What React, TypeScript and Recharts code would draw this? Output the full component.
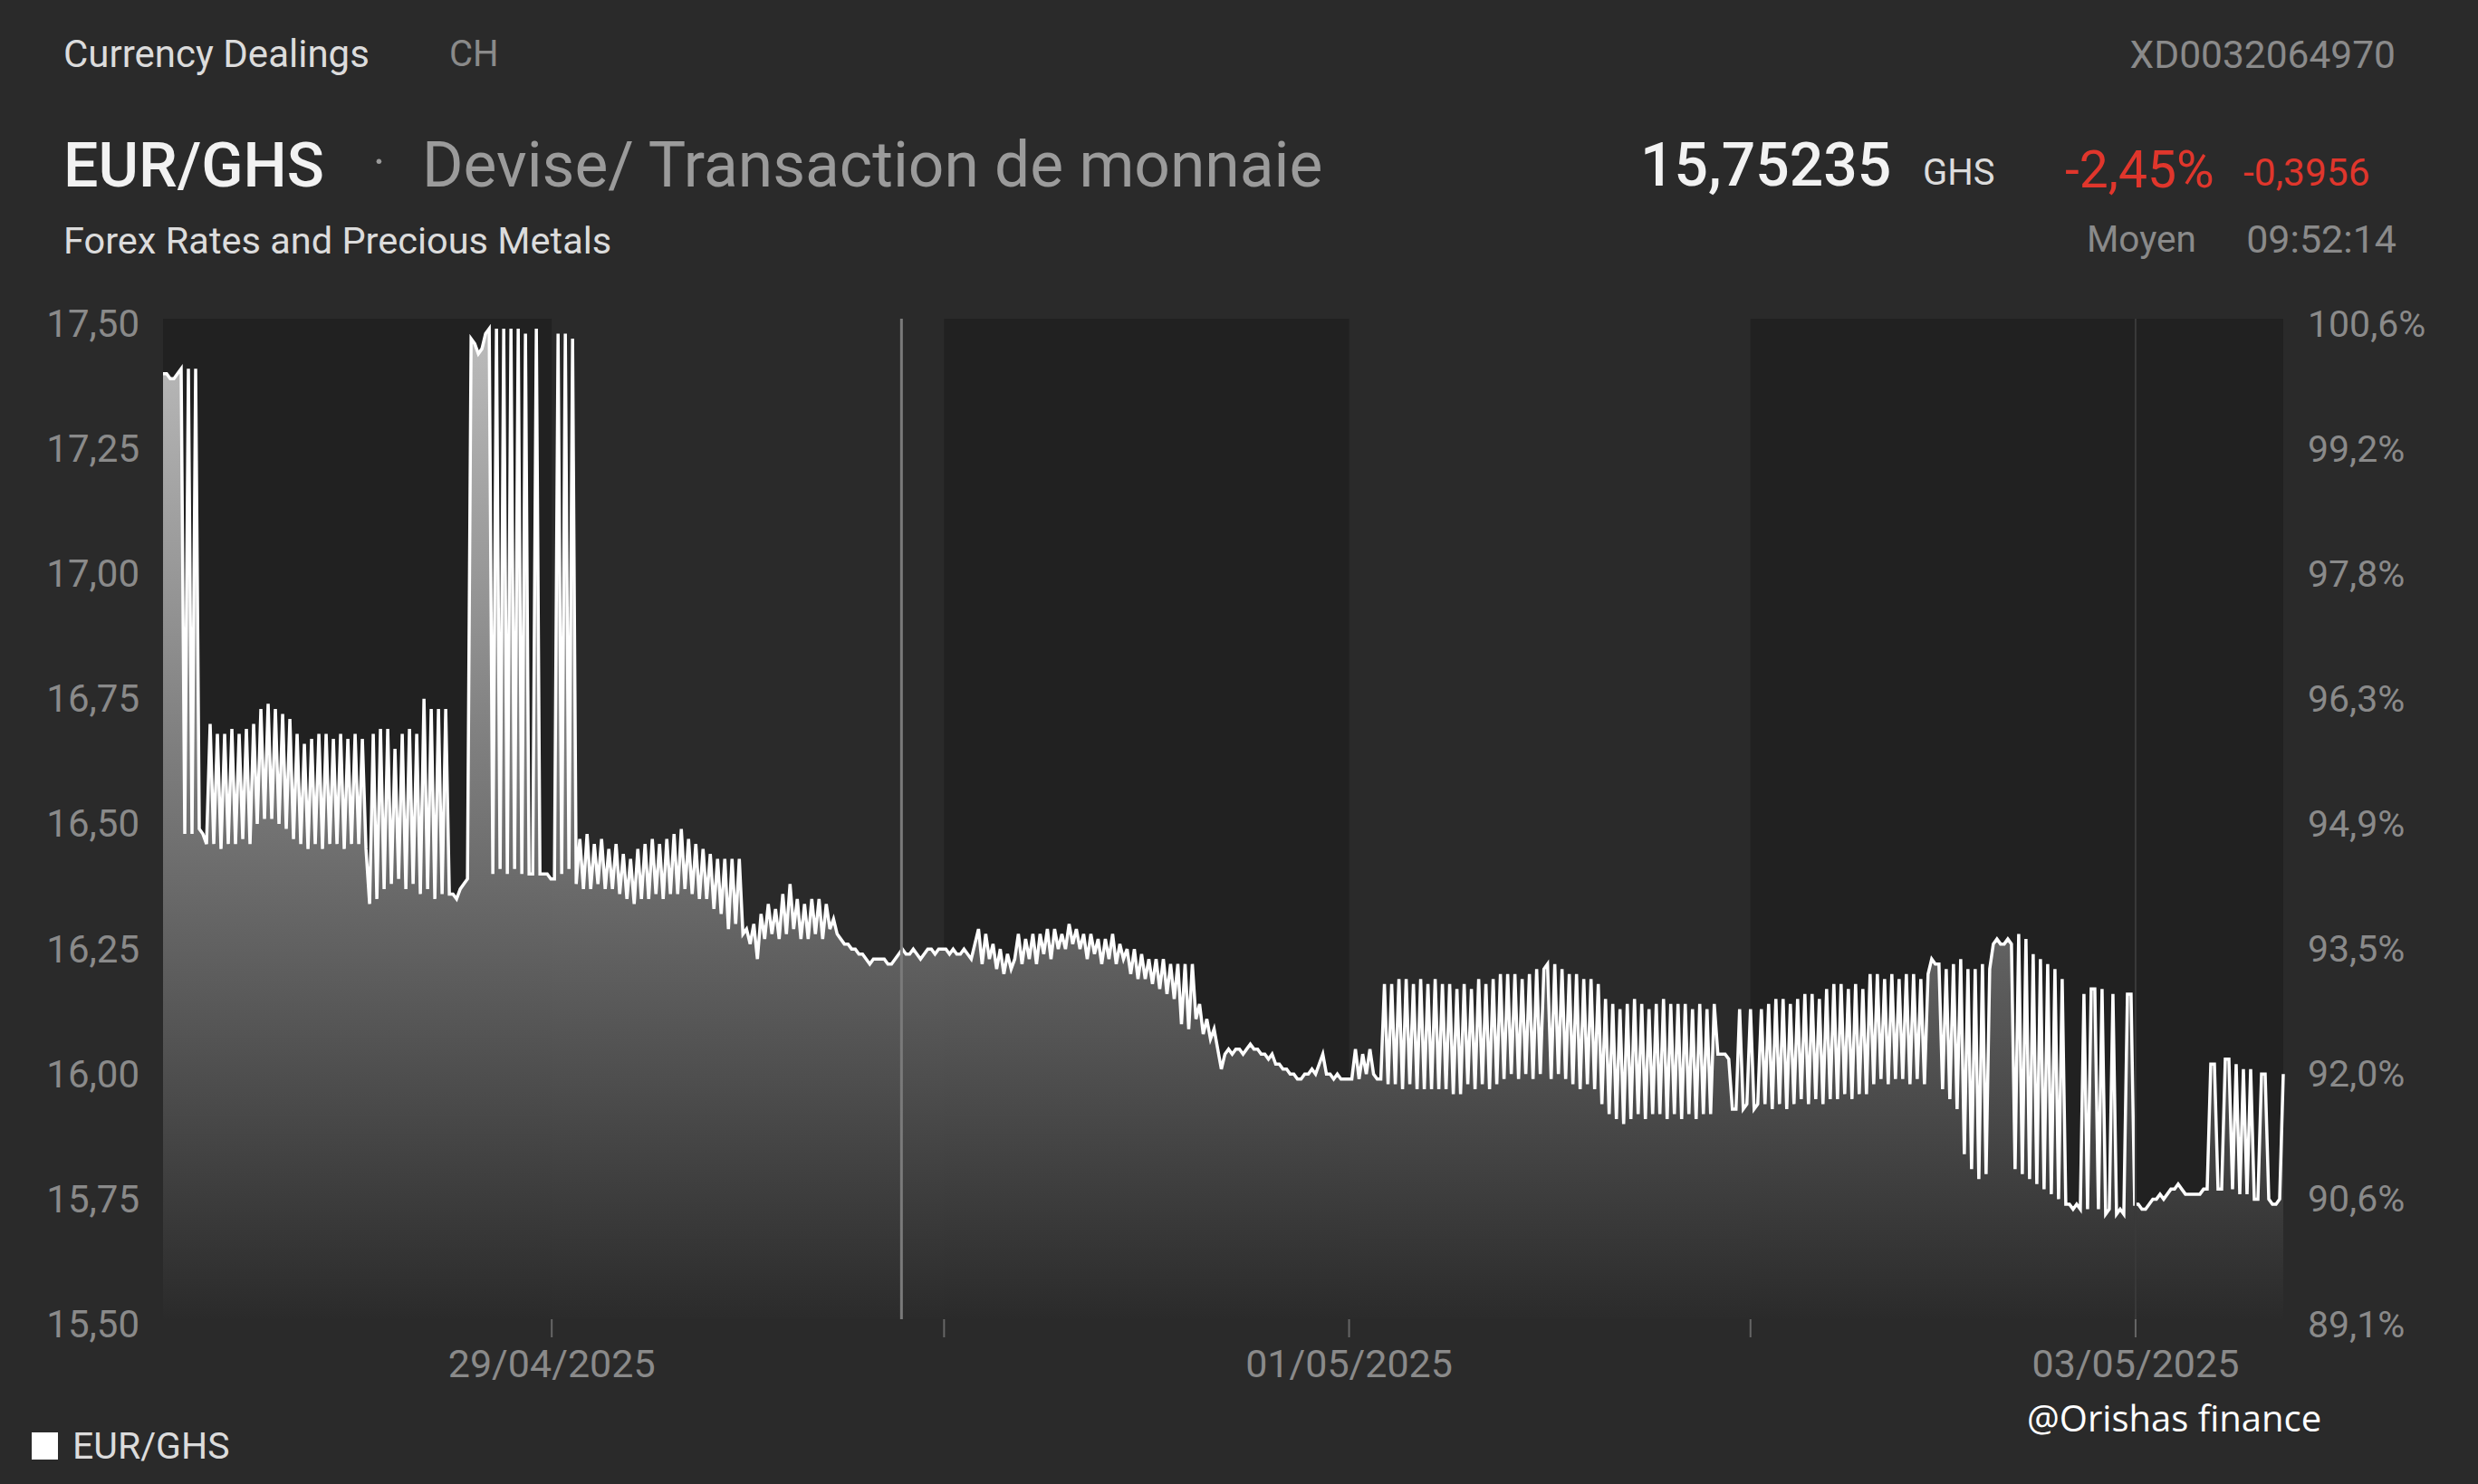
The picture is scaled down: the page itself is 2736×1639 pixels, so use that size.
import React from "react";
import {
  AreaChart,
  Area,
  XAxis,
  YAxis,
  ReferenceArea,
  ReferenceLine,
} from "recharts";

// EUR/GHS mid rate, one reading per slot, split by trading day
const DAY_2804 = [
  17.39, 17.39, 17.38, 17.38, 17.39, 17.4, 16.47, 17.4, 16.47, 17.4,
  16.48, 16.47, 16.45, 16.69, 16.45, 16.67, 16.44, 16.67, 16.45, 16.68,
  16.45, 16.67, 16.46, 16.68, 16.45, 16.69, 16.49, 16.72, 16.5, 16.73,
  16.5, 16.72, 16.49, 16.71, 16.48, 16.7, 16.46, 16.67, 16.45, 16.65,
  16.44, 16.66, 16.45, 16.67, 16.44, 16.67, 16.45, 16.66, 16.45, 16.67,
  16.44, 16.66, 16.45, 16.67, 16.45, 16.66, 16.44, 16.33, 16.67, 16.34,
  16.68, 16.36, 16.68, 16.37, 16.64, 16.38, 16.67, 16.36, 16.68, 16.37,
  16.67, 16.35, 16.74, 16.36, 16.72, 16.34, 16.72, 16.35, 16.72, 16.35,
  16.35, 16.34, 16.36, 16.37, 16.38, 17.46, 17.45, 17.43, 17.44, 17.47,
  17.48, 16.39, 17.48, 16.4, 17.48, 16.39, 17.48, 16.4, 17.48, 16.39,
  17.47, 16.39, 16.39, 17.48, 16.39, 16.39, 16.39, 16.38,
];
const DAY_2904 = [
  16.38, 17.47, 16.39, 17.47, 16.4, 17.46, 16.37, 16.46, 16.36, 16.47,
  16.36, 16.45, 16.37, 16.46, 16.36, 16.44, 16.36, 16.45, 16.35, 16.43,
  16.34, 16.42, 16.33, 16.44, 16.34, 16.45, 16.34, 16.46, 16.35, 16.45,
  16.34, 16.46, 16.35, 16.47, 16.35, 16.48, 16.36, 16.46, 16.35, 16.45,
  16.34, 16.44, 16.34, 16.43, 16.32, 16.42, 16.31, 16.42, 16.28, 16.42,
  16.29, 16.42, 16.27, 16.28, 16.25, 16.29, 16.22, 16.31, 16.26, 16.33,
  16.27, 16.32, 16.26, 16.35, 16.27, 16.37, 16.28, 16.34, 16.26, 16.33,
  16.26, 16.34, 16.27, 16.34, 16.26, 16.33, 16.28, 16.3, 16.27, 16.26,
  16.25, 16.25, 16.24, 16.24, 16.23, 16.23, 16.22, 16.21, 16.22, 16.22,
  16.22, 16.22, 16.21, 16.21, 16.22, 16.23, 16.24, 16.23, 16.23, 16.24,
  16.23, 16.22, 16.23, 16.24, 16.24, 16.23, 16.24, 16.24,
];
const DAY_3004 = [
  16.24, 16.23, 16.24, 16.23, 16.23, 16.24, 16.23, 16.22, 16.25, 16.28,
  16.21, 16.27, 16.22, 16.25, 16.2, 16.24, 16.19, 16.23, 16.2, 16.22,
  16.27, 16.21, 16.26, 16.22, 16.27, 16.21, 16.27, 16.23, 16.28, 16.22,
  16.28, 16.24, 16.27, 16.24, 16.29, 16.25, 16.28, 16.24, 16.27, 16.22,
  16.27, 16.23, 16.26, 16.21, 16.26, 16.22, 16.27, 16.21, 16.25, 16.22,
  16.24, 16.19, 16.24, 16.18, 16.23, 16.18, 16.22, 16.17, 16.22, 16.16,
  16.22, 16.15, 16.21, 16.14, 16.21, 16.09, 16.21, 16.08, 16.21, 16.1,
  16.13, 16.07, 16.1, 16.06, 16.08, 16.04, 16.0, 16.03, 16.04, 16.03,
  16.04, 16.04, 16.03, 16.04, 16.05, 16.04, 16.04, 16.03, 16.03, 16.02,
  16.03, 16.01, 16.01, 16.0, 16.0, 15.99, 15.99, 15.98, 15.98, 15.99,
  15.99, 16.0, 15.99, 16.01, 16.03, 15.99, 15.99, 15.98, 15.99, 15.98,
  15.98, 15.98,
];
const DAY_0105 = [
  15.98, 16.04, 15.98, 16.03, 15.99, 16.04, 15.99, 15.98, 15.98, 16.17,
  15.97, 16.17, 15.97, 16.18, 15.96, 16.18, 15.97, 16.17, 15.96, 16.18,
  15.96, 16.17, 15.96, 16.18, 15.96, 16.17, 15.96, 16.17, 15.95, 16.16,
  15.95, 16.17, 15.97, 16.16, 15.96, 16.18, 15.97, 16.17, 15.96, 16.18,
  15.97, 16.19, 15.98, 16.19, 15.99, 16.19, 15.98, 16.18, 15.99, 16.19,
  15.98, 16.2, 15.99, 16.2, 16.21, 15.98, 16.21, 15.99, 16.2, 15.98,
  16.19, 15.97, 16.19, 15.96, 16.18, 15.97, 16.18, 15.96, 16.17, 15.93,
  16.14, 15.91, 16.13, 15.9, 16.12, 15.89, 16.13, 15.9, 16.14, 15.91,
  16.13, 15.9, 16.12, 15.91, 16.13, 15.91, 16.14, 15.9, 16.13, 15.91,
  16.13, 15.9, 16.13, 15.91, 16.12, 15.9, 16.13, 15.91, 16.12, 15.91,
  16.13, 16.03, 16.03, 16.03, 16.02, 15.92, 15.92, 16.12, 15.92, 15.93,
  16.12,
];
const DAY_0205 = [
  15.92, 15.93, 16.12, 15.93, 16.13, 15.92, 16.14, 15.93, 16.14, 15.92,
  16.13, 15.93, 16.14, 15.94, 16.15, 15.93, 16.15, 15.94, 16.14, 15.93,
  16.16, 15.94, 16.17, 15.94, 16.17, 15.95, 16.16, 15.94, 16.17, 15.95,
  16.16, 15.95, 16.19, 15.97, 16.19, 15.98, 16.18, 15.97, 16.19, 15.98,
  16.18, 15.98, 16.19, 15.97, 16.19, 15.98, 16.18, 15.97, 16.19, 16.22,
  16.21, 16.21, 15.96, 16.2, 15.94, 16.21, 15.92, 16.22, 15.83, 16.2,
  15.8, 16.2, 15.78, 16.21, 15.79, 16.2, 16.25, 16.26, 16.25, 16.25,
  16.26, 16.25, 15.8, 16.27, 15.79, 16.26, 15.78, 16.23, 15.77, 16.22,
  15.76, 16.21, 15.75, 16.2, 15.74, 16.18, 15.73, 15.73, 15.72, 15.73,
  15.72, 16.15, 15.72, 16.16, 16.16, 15.72, 16.16, 15.71, 15.72, 16.15,
  15.71, 15.72, 15.71, 16.15, 16.15, 15.73,
];
const DAY_0305 = [
  15.73, 15.72, 15.72, 15.73, 15.74, 15.74, 15.75, 15.74, 15.75, 15.76,
  15.76, 15.77, 15.76, 15.75, 15.75, 15.75, 15.75, 15.75, 15.76, 15.76,
  16.01, 16.01, 15.76, 15.76, 16.02, 16.02, 15.76, 16.01, 15.75, 16.0,
  15.75, 16.0, 15.74, 15.74, 15.99, 15.99, 15.74, 15.73, 15.73, 15.74,
  15.99,
];

const RATES = [
  ...DAY_2804,
  ...DAY_2904,
  ...DAY_3004,
  ...DAY_0105,
  ...DAY_0205,
  ...DAY_0305,
];

const PRICE_TICKS = [15.5, 15.75, 16, 16.25, 16.5, 16.75, 17, 17.25, 17.5];
const PCT_LABELS = [
  "89,1%", "90,6%", "92,0%", "93,5%", "94,9%",
  "96,3%", "97,8%", "99,2%", "100,6%",
];

// slot index where each day begins
const DAY_TICKS = [107.25, 215.5, 327.25, 438, 544.25];
const DAY_LABELS = ["29/04/2025", "", "01/05/2025", "", "03/05/2025"];
const SHADED = [
  [0, 107.25],
  [215.5, 327.25],
  [438, 585],
];
const CURSOR_AT = 203.75;

const data = RATES.map((v, i) => ({ i, v }));

const AXIS_GRAY = "#8a8a8a";

function Txt({ x, right, cy, size, color, weight = 400, family, children }: any) {
  const style: React.CSSProperties = {
    position: "absolute",
    top: cy - size * 0.49,
    fontSize: size,
    lineHeight: `${size}px`,
    color,
    fontWeight: weight,
    whiteSpace: "nowrap",
  };
  if (family) style.fontFamily = family;
  if (right !== undefined) style.right = 2736 - right;
  else style.left = x;
  return <div style={style}>{children}</div>;
}

export default function App() {
  return (
    <div
      style={{
        position: "absolute",
        left: 0,
        top: 0,
        width: 2736,
        height: 1639,
        background: "#2a2a2a",
        fontFamily: "Roboto, sans-serif",
        overflow: "hidden",
      }}
    >
      <style>{"body{margin:0;background:#2a2a2a}"}</style>

      <div style={{ position: "absolute", left: 0, top: 0 }}>
        <AreaChart
          width={2736}
          height={1639}
          data={data}
          margin={{ top: 352, right: 55, bottom: 122, left: 80 }}
        >
          <defs>
            <linearGradient id="rateFill" x1="0" y1="0" x2="0" y2="1">
              <stop offset="0%" stopColor="#c4c4c4" />
              <stop offset="100%" stopColor="#2b2b2b" />
            </linearGradient>
          </defs>
          {SHADED.map(([a, b]) => (
            <ReferenceArea
              key={a}
              yAxisId="left"
              x1={a}
              x2={b}
              y1={15.5}
              y2={17.5}
              fill="#212121"
              fillOpacity={1}
              stroke="none"
            />
          ))}
          <XAxis
            dataKey="i"
            type="number"
            domain={[0, RATES.length - 1]}
            ticks={DAY_TICKS}
            interval={0}
            tickFormatter={(v: number) => DAY_LABELS[DAY_TICKS.indexOf(v)] || ""}
            axisLine={false}
            tickLine={{ stroke: "#666", strokeWidth: 2 }}
            tickSize={20}
            tickMargin={13}
            height={60}
            tick={{ fill: AXIS_GRAY, fontSize: 43 }}
          />
          <YAxis
            yAxisId="left"
            domain={[15.5, 17.5]}
            ticks={PRICE_TICKS}
            interval={0}
            tickFormatter={(v: number) => v.toFixed(2).replace(".", ",")}
            axisLine={false}
            tickLine={false}
            tickSize={6}
            tickMargin={20}
            width={100}
            tick={{ fill: AXIS_GRAY, fontSize: 42, dy: 5 }}
          />
          <YAxis
            yAxisId="right"
            orientation="right"
            domain={[15.5, 17.5]}
            ticks={PRICE_TICKS}
            interval={0}
            tickFormatter={(v: number) => PCT_LABELS[PRICE_TICKS.indexOf(v)]}
            axisLine={false}
            tickLine={false}
            tickSize={6}
            tickMargin={21}
            width={160}
            tick={{ fill: AXIS_GRAY, fontSize: 41, dy: 5 }}
          />
          <Area
            yAxisId="right"
            type="linear"
            dataKey="v"
            stroke="none"
            fill="none"
            dot={false}
            activeDot={false}
            isAnimationActive={false}
          />
          <Area
            yAxisId="left"
            type="linear"
            dataKey="v"
            stroke="#ffffff"
            strokeWidth={3.5}
            fill="url(#rateFill)"
            fillOpacity={0.95}
            dot={false}
            activeDot={false}
            isAnimationActive={false}
          />
          <ReferenceLine yAxisId="left" x={CURSOR_AT} stroke="#7a7a7a" strokeWidth={3} />
          <ReferenceLine yAxisId="left" x={DAY_TICKS[4]} stroke="#3a3a3a" strokeWidth={2} />
        </AreaChart>
      </div>

      <Txt x={70} cy={60} size={42} color="#dcdcdc">Currency Dealings</Txt>
      <Txt x={496} cy={60} size={40} color="#8a8a8a">CH</Txt>
      <Txt right={2645} cy={61} size={42.5} color="#8a8a8a">XD0032064970</Txt>

      <Txt x={70} cy={182} size={68} color="#f2f2f2" weight={500}>EUR/GHS</Txt>
      <Txt x={412} cy={178} size={50} color="#9a9a9a">·</Txt>
      <Txt x={466} cy={182} size={69.5} color="#9b9b9b">Devise/ Transaction de monnaie</Txt>
      <Txt x={70} cy={265} size={41.5} color="#dcdcdc">Forex Rates and Precious Metals</Txt>

      <Txt x={1811} cy={182} size={66} color="#f2f2f2" weight={500}>15,75235</Txt>
      <Txt x={2123} cy={191} size={40} color="#dcdcdc">GHS</Txt>
      <Txt x={2280} cy={187} size={57} color="#e0362c">-2,45%</Txt>
      <Txt x={2477} cy={191} size={42.5} color="#e0362c">-0,3956</Txt>
      <Txt x={2304} cy={264} size={40.5} color="#8a8a8a">Moyen</Txt>
      <Txt right={2646} cy={264} size={43} color="#8a8a8a">09:52:14</Txt>

      <div
        style={{
          position: "absolute",
          left: 35,
          top: 1582,
          width: 29,
          height: 30,
          background: "#ffffff",
        }}
      />
      <Txt x={80} cy={1597} size={41} color="#dcdcdc">EUR/GHS</Txt>
      <Txt x={2238} cy={1566} size={40} color="#ffffff" family="'Open Sans', sans-serif">
        @Orishas finance
      </Txt>
    </div>
  );
}
